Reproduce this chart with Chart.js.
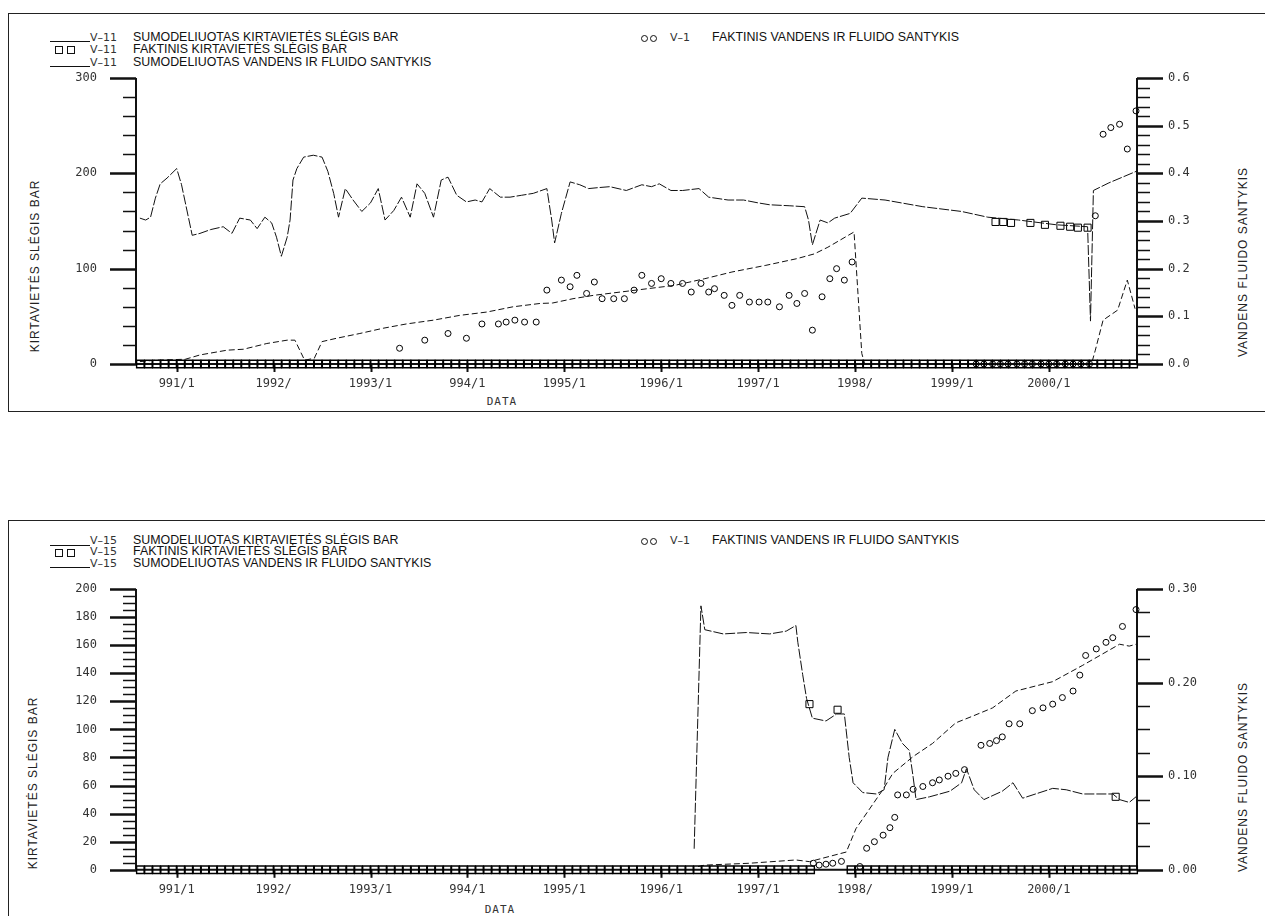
<!DOCTYPE html>
<html>
<head>
<meta charset="utf-8">
<script src="https://cdn.jsdelivr.net/npm/chart.js@4.4.1/dist/chart.umd.min.js"></script>
<style>
  html, body { margin: 0; padding: 0; background: #fff; overflow: hidden; width: 1265px; height: 916px; }
  .box { position: absolute; left: 8px; width: 1270px; border: 1.5px solid #222; }
  canvas { position: absolute; left: 0; }
  .t { position: absolute; font: 12.4px "Liberation Sans", Arial, sans-serif; color: #111; white-space: nowrap; line-height: 12px; }
  .tag { position: absolute; font: 11px "DejaVu Sans", sans-serif; color: #333; white-space: nowrap; line-height: 12px; }
  .sample { position: absolute; height: 0; border-top: 1px solid #111; }
  .sq { position: absolute; width: 6px; height: 6px; border: 1px solid #111; }
  .ci { position: absolute; width: 5px; height: 5px; border: 1px solid #111; border-radius: 50%; }
  .rot { position: absolute; font: 12px "Liberation Sans", Arial, sans-serif; letter-spacing: 1px; color: #222;
         white-space: nowrap; transform: translate(-50%, -50%) rotate(-90deg); }
  .xt { position: absolute; font: 11px "DejaVu Sans Mono", monospace; letter-spacing: 1px; color: #333; transform: translate(-50%, -50%); }
</style>
</head>
<body>
<div class="box" style="top:13px;height:397px;"></div>
<div class="box" style="top:520px;height:420px;"></div>

<!-- V-11 legend -->
<div class="sample" style="left:50px;top:41px;width:40px;"></div>
<div class="tag" style="left:90px;top:32px;">V–11</div>
<div class="t" style="left:133px;top:31px;">SUMODELIUOTAS KIRTAVIETĖS SLĖGIS BAR</div>
<div class="sq" style="left:55px;top:46px;"></div>
<div class="sq" style="left:67px;top:46px;"></div>
<div class="tag" style="left:90px;top:44px;">V–11</div>
<div class="t" style="left:133px;top:43px;">FAKTINIS KIRTAVIETĖS SLĖGIS BAR</div>
<div class="sample" style="left:50px;top:66px;width:40px;"></div>
<div class="tag" style="left:90px;top:57px;">V–11</div>
<div class="t" style="left:133px;top:56px;">SUMODELIUOTAS VANDENS IR FLUIDO SANTYKIS</div>
<div class="ci" style="left:641px;top:35px;"></div>
<div class="ci" style="left:650px;top:35px;"></div>
<div class="tag" style="left:670px;top:32px;">V–1</div>
<div class="t" style="left:712px;top:31px;">FAKTINIS VANDENS IR FLUIDO SANTYKIS</div>
<div class="rot" style="left:35px;top:266px;">KIRTAVIETĖS SLĖGIS BAR</div>
<div class="rot" style="left:1243px;top:262px;">VANDENS FLUIDO SANTYKIS</div>
<div class="xt" style="left:502px;top:401px;">DATA</div>

<!-- V-15 legend -->
<div class="sample" style="left:50px;top:545px;width:40px;"></div>
<div class="tag" style="left:90px;top:535px;">V–15</div>
<div class="t" style="left:133px;top:534px;">SUMODELIUOTAS KIRTAVIETĖS SLĖGIS BAR</div>
<div class="sq" style="left:55px;top:549px;"></div>
<div class="sq" style="left:67px;top:549px;"></div>
<div class="tag" style="left:90px;top:546px;">V–15</div>
<div class="t" style="left:133px;top:545px;">FAKTINIS KIRTAVIETĖS SLĖGIS BAR</div>
<div class="sample" style="left:50px;top:567px;width:40px;"></div>
<div class="tag" style="left:90px;top:558px;">V–15</div>
<div class="t" style="left:133px;top:557px;">SUMODELIUOTAS VANDENS IR FLUIDO SANTYKIS</div>
<div class="ci" style="left:641px;top:538px;"></div>
<div class="ci" style="left:650px;top:538px;"></div>
<div class="tag" style="left:670px;top:535px;">V–1</div>
<div class="t" style="left:712px;top:534px;">FAKTINIS VANDENS IR FLUIDO SANTYKIS</div>
<div class="rot" style="left:33px;top:783px;">KIRTAVIETĖS SLĖGIS BAR</div>
<div class="rot" style="left:1243px;top:777px;">VANDENS FLUIDO SANTYKIS</div>
<div class="xt" style="left:500px;top:909px;">DATA</div>

<canvas id="chartV11" width="1265" height="420" style="top:0;width:1265px;height:420px;"></canvas>
<canvas id="chartV15" width="1265" height="405" style="top:511px;width:1265px;height:405px;"></canvas>

<script>
// x axis: decimal years
const xTickYears = [1991, 1992, 1993, 1994, 1995, 1996, 1997, 1998, 1999, 2000];
const xTickLabels = ['991/1', '1992/', '1993/1', '994/1', '1995/1', '1996/1', '1997/1', '1998/', '1999/1', '2000/1'];

// month grid of the time axis (1990/08 .. 2000/11)
const months = [];
for (let m = 0; m < 124; m++) months.push(1990.625 + m / 12);

// ---- V-11 ----
const simPressYearsV11 = [1990.62, 1990.68, 1990.73, 1990.78, 1990.83, 1990.90, 1991.00, 1991.05, 1991.16, 1991.24,
  1991.35, 1991.48, 1991.57, 1991.65, 1991.76, 1991.83, 1991.91, 1991.98, 1992.03, 1992.08,
  1992.14, 1992.17, 1992.20, 1992.24, 1992.31, 1992.41, 1992.50, 1992.56, 1992.62, 1992.67,
  1992.74, 1992.82, 1992.91, 1993.00, 1993.08, 1993.15, 1993.24, 1993.32, 1993.41, 1993.48,
  1993.56, 1993.65, 1993.73, 1993.80, 1993.89, 1993.99, 1994.08, 1994.15, 1994.23, 1994.34,
  1994.44, 1994.56, 1994.68, 1994.82, 1994.87, 1994.90, 1994.97, 1995.06, 1995.16, 1995.25,
  1995.35, 1995.47, 1995.64, 1995.80, 1995.90, 1995.98, 1996.10, 1996.22, 1996.39, 1996.49,
  1996.69, 1996.85, 1997.00, 1997.12, 1997.32, 1997.48, 1997.52, 1997.56, 1997.64, 1997.72,
  1997.79, 1997.95, 1998.07, 1998.31, 1998.70, 1999.10, 1999.37, 1999.69, 2000.08, 2000.40,
  2000.43, 2000.46, 2000.62, 2000.90];
const simPressV11 = [153, 151, 154, 174, 189, 195, 205, 188, 135, 137,
  141, 144, 137, 153, 151, 142, 154, 148, 133, 113,
  133, 151, 193, 205, 217, 219, 217, 202, 179, 154,
  184, 172, 160, 169, 184, 151, 161, 175, 154, 189,
  179, 154, 193, 196, 177, 170, 172, 170, 184, 175,
  175, 177, 179, 184, 151, 127, 158, 191, 188, 184,
  185, 186, 182, 188, 186, 189, 182, 182, 184, 175,
  172, 172, 169, 167, 166, 165, 151, 125, 151, 148,
  153, 158, 174, 172, 165, 160, 154, 151, 146, 144,
  45, 182, 190, 202];

const simRatioYearsV11 = [1990.62, 1990.78, 1991.09, 1991.24, 1991.52, 1991.69, 1991.93, 1992.14, 1992.22, 1992.32,
  1992.42, 1992.50, 1992.65, 1992.89, 1993.13, 1993.37, 1993.65, 1993.92, 1994.20, 1994.47,
  1994.75, 1994.88, 1995.09, 1995.30, 1995.74, 1996.14, 1996.45, 1996.73, 1997.08, 1997.40,
  1997.58, 1997.72, 1997.99, 1998.07, 1998.10, 2000.44, 2000.48, 2000.56, 2000.71, 2000.81,
  2000.89];
const simRatioV11 = [0.005, 0.008, 0.010, 0.019, 0.029, 0.031, 0.043, 0.050, 0.050, 0.008,
  0.012, 0.047, 0.054, 0.064, 0.075, 0.084, 0.092, 0.102, 0.109, 0.120,
  0.127, 0.128, 0.137, 0.144, 0.155, 0.165, 0.179, 0.193, 0.207, 0.221,
  0.231, 0.245, 0.277, 0.022, 0.000, 0.000, 0.029, 0.092, 0.113, 0.176,
  0.116];

const factPressYearsV11 = [1999.45, 1999.53, 1999.61, 1999.81, 1999.96, 2000.12, 2000.22, 2000.30, 2000.40];
const factPressV11 = [149, 149, 148, 148, 146, 145, 144, 143, 143];

const factRatioYearsV11 = [1993.30, 1993.56, 1993.80, 1993.99, 1994.15, 1994.32, 1994.40, 1994.49, 1994.59, 1994.71,
  1994.82, 1994.97, 1995.06, 1995.13, 1995.23, 1995.31, 1995.39, 1995.51, 1995.62, 1995.72,
  1995.80, 1995.90, 1996.00, 1996.10, 1996.22, 1996.31, 1996.41, 1996.49, 1996.55, 1996.65,
  1996.73, 1996.81, 1996.91, 1997.01, 1997.10, 1997.22, 1997.32, 1997.40, 1997.48, 1997.56,
  1997.66, 1997.74, 1997.81, 1997.89, 1997.97,
  1999.25, 1999.33, 1999.42, 1999.50, 1999.58, 1999.67, 1999.75, 1999.83, 1999.92, 2000.00,
  2000.08, 2000.17, 2000.25, 2000.33, 2000.42,
  2000.48, 2000.56, 2000.64, 2000.73, 2000.81, 2000.90];
const factRatioV11 = [0.033, 0.050, 0.064, 0.054, 0.084, 0.084, 0.088, 0.092, 0.088, 0.088,
  0.155, 0.176, 0.162, 0.186, 0.148, 0.172, 0.137, 0.137, 0.137, 0.155,
  0.186, 0.169, 0.179, 0.169, 0.169, 0.151, 0.169, 0.151, 0.158, 0.144,
  0.123, 0.144, 0.130, 0.130, 0.130, 0.120, 0.144, 0.127, 0.148, 0.071,
  0.141, 0.179, 0.200, 0.176, 0.214,
  0, 0, 0, 0, 0, 0, 0, 0, 0, 0,
  0, 0, 0, 0, 0,
  0.311, 0.482, 0.496, 0.503, 0.451, 0.531];

// ---- V-15 ----
const simPressYearsV15 = [1996.34, 1996.41, 1996.45, 1996.64, 1996.88, 1997.12, 1997.29, 1997.39, 1997.41, 1997.46,
  1997.50, 1997.56, 1997.70, 1997.81, 1997.89, 1997.94, 1997.98, 1998.08, 1998.22, 1998.30,
  1998.34, 1998.41, 1998.49, 1998.56, 1998.60, 1998.63, 1998.77, 1998.98, 1999.10, 1999.15,
  1999.23, 1999.33, 1999.52, 1999.63, 1999.73, 2000.04, 2000.18, 2000.35, 2000.66, 2000.73,
  2000.83, 2000.90];
const simPressV15 = [15, 188, 171, 168, 169, 168, 170, 174, 162, 139,
  122, 108, 106, 111, 111, 80, 62, 55, 54, 57,
  80, 100, 90, 85, 66, 50, 52, 56, 62, 72,
  57, 50, 56, 62, 51, 58, 57, 54, 54, 50,
  48, 52];

const simRatioYearsV15 = [1996.38, 1996.45, 1996.91, 1997.39, 1997.53, 1997.91, 1998.01, 1998.15, 1998.29, 1998.39,
  1998.60, 1998.80, 1999.04, 1999.21, 1999.42, 1999.66, 2000.04, 2000.35, 2000.73, 2000.83,
  2000.90];
const simRatioV15 = [0.0035, 0.005, 0.007, 0.0105, 0.0087, 0.019, 0.044, 0.065, 0.086, 0.103,
  0.121, 0.135, 0.157, 0.164, 0.173, 0.191, 0.201, 0.2185, 0.241, 0.239,
  0.241];

const factPressYearsV15 = [1997.53, 1997.82, 2000.69];
const factPressV15 = [118, 114, 52];

const factRatioYearsV15 = [1997.57, 1997.63, 1997.70, 1997.77, 1997.86, 1998.05, 1998.12, 1998.20, 1998.29, 1998.36,
  1998.41, 1998.44, 1998.53, 1998.60, 1998.70, 1998.80, 1998.87, 1998.96, 1999.04, 1999.13,
  1999.30, 1999.39, 1999.46, 1999.52, 1999.59, 1999.70, 1999.83, 1999.94, 2000.04, 2000.14,
  2000.25, 2000.32, 2000.38, 2000.49, 2000.59, 2000.66, 2000.76, 2000.90];
const factRatioV15 = [0.007, 0.005, 0.006, 0.007, 0.009, 0.0035, 0.023, 0.030, 0.037, 0.045,
  0.056, 0.080, 0.080, 0.086, 0.089, 0.093, 0.096, 0.100, 0.103, 0.107,
  0.133, 0.135, 0.138, 0.142, 0.156, 0.156, 0.170, 0.173, 0.177, 0.184,
  0.191, 0.208, 0.229, 0.236, 0.243, 0.248, 0.260, 0.278];

// factual pressure recorded as 0 (row of squares on the time axis)
const zeroRowV11 = months;
const zeroRowV15 = months.filter(m => !(m > 1997.55 && m < 1997.9));

const pts = (xs, ys) => xs.map((x, i) => ({ x, y: ys[i] }));
const zeros = xs => xs.map(x => ({ x, y: 0 }));

// plotter style axes with major / minor ticks
const plotterAxes = {
  id: 'plotterAxes',
  beforeDatasetsDraw(chart, args, opts) {
    const { ctx, chartArea: a, scales } = chart;
    const ticksFor = (scale, minor, major, side) => {
      const n = Math.round((scale.max - scale.min) / minor);
      for (let i = 0; i <= n; i++) {
        const v = scale.min + i * minor;
        const isMajor = Math.abs(v / major - Math.round(v / major)) < 1e-6;
        const py = Math.round(scale.getPixelForValue(v)) + 0.5;
        const len = isMajor ? 26 : 13;
        ctx.lineWidth = isMajor ? 2.5 : 1.5;
        ctx.beginPath();
        if (side === 'left') { ctx.moveTo(a.left - len, py); ctx.lineTo(a.left, py); }
        else { ctx.moveTo(a.right, py); ctx.lineTo(a.right + len, py); }
        ctx.stroke();
      }
    };
    ctx.save();
    ctx.strokeStyle = '#111';
    ctx.lineWidth = 2;
    ctx.beginPath();
    ctx.moveTo(a.left, a.top); ctx.lineTo(a.left, a.bottom);
    ctx.moveTo(a.right, a.top); ctx.lineTo(a.right, a.bottom);
    ctx.moveTo(a.left, a.bottom); ctx.lineTo(a.right, a.bottom);
    ctx.stroke();
    ticksFor(scales.y, opts.leftMinor, opts.leftMajor, 'left');
    ticksFor(scales.y1, opts.rightMinor, opts.rightMajor, 'right');
    ctx.lineWidth = 2;
    scales.x.ticks.forEach(t => {
      const px = Math.round(scales.x.getPixelForValue(t.value)) + 0.5;
      ctx.beginPath(); ctx.moveTo(px, a.bottom); ctx.lineTo(px, a.bottom + 8); ctx.stroke();
    });
    ctx.restore();
  }
};

const tickFont = { family: 'DejaVu Sans Mono', size: 12 };

function makeChart(id, d) {
  return new Chart(document.getElementById(id), {
    type: 'scatter',
    data: {
      datasets: [
        { data: zeros(d.zeroRow), yAxisID: 'y', pointStyle: 'rect', pointRadius: 5.3, borderWidth: 1.4,
          borderColor: '#000', backgroundColor: 'rgba(0,0,0,0)', clip: false },
        { data: pts(d.simPressYears, d.simPress), yAxisID: 'y', showLine: true, pointRadius: 0,
          borderColor: '#111', borderWidth: 1, borderDash: [10, 2] },
        { data: pts(d.simRatioYears, d.simRatio), yAxisID: 'y1', showLine: true, pointRadius: 0,
          borderColor: '#111', borderWidth: 1, borderDash: [6, 3] },
        { data: pts(d.factPressYears, d.factPress), yAxisID: 'y', pointStyle: 'rect', pointRadius: 5, borderWidth: 1,
          borderColor: '#000', backgroundColor: 'rgba(0,0,0,0)', clip: false },
        { data: pts(d.factRatioYears, d.factRatio), yAxisID: 'y1', pointStyle: 'circle', pointRadius: 3, borderWidth: 1,
          borderColor: '#000', backgroundColor: 'rgba(0,0,0,0)', clip: false }
      ]
    },
    options: {
      responsive: false,
      animation: false,
      layout: { padding: { top: 78, left: 0, right: 0, bottom: 0 } },
      plugins: {
        legend: { display: false },
        tooltip: { enabled: false },
        plotterAxes: d.axes
      },
      scales: {
        x: {
          type: 'linear', min: 1990.58, max: 2000.91,
          afterFit: s => { s.height = d.xHeight; },
          afterBuildTicks: s => { s.ticks = xTickYears.map(v => ({ value: v })); },
          grid: { display: false, drawTicks: false }, border: { display: false },
          ticks: { autoSkip: false, maxRotation: 0, padding: 13, font: tickFont, color: '#333',
                   callback: (v, i) => xTickLabels[i] }
        },
        y: {
          position: 'left', min: 0, max: d.leftMax,
          afterFit: s => { s.width = 136; },
          grid: { display: false, drawTicks: false }, border: { display: false },
          ticks: { stepSize: d.axes.leftLabelStep, padding: 39, font: tickFont, color: '#333' }
        },
        y1: {
          position: 'right', min: 0, max: d.rightMax,
          afterFit: s => { s.width = 128; },
          grid: { display: false, drawTicks: false }, border: { display: false },
          ticks: { stepSize: 0.1, padding: 31, font: tickFont, color: '#333',
                   callback: v => v.toFixed(d.rightDigits) }
        }
      }
    },
    plugins: [plotterAxes]
  });
}

makeChart('chartV11', {
  zeroRow: zeroRowV11,
  simPressYears: simPressYearsV11, simPress: simPressV11,
  simRatioYears: simRatioYearsV11, simRatio: simRatioV11,
  factPressYears: factPressYearsV11, factPress: factPressV11,
  factRatioYears: factRatioYearsV11, factRatio: factRatioV11,
  leftMax: 300, rightMax: 0.6, rightDigits: 1, xHeight: 56,
  axes: { leftMinor: 20, leftMajor: 100, leftLabelStep: 100, rightMinor: 0.02, rightMajor: 0.1 }
});

makeChart('chartV15', {
  zeroRow: zeroRowV15,
  simPressYears: simPressYearsV15, simPress: simPressV15,
  simRatioYears: simRatioYearsV15, simRatio: simRatioV15,
  factPressYears: factPressYearsV15, factPress: factPressV15,
  factRatioYears: factRatioYearsV15, factRatio: factRatioV15,
  leftMax: 200, rightMax: 0.3, rightDigits: 2, xHeight: 41,
  axes: { leftMinor: 5, leftMajor: 20, leftLabelStep: 20, rightMinor: 0.025, rightMajor: 0.1 }
});
</script>
</body>
</html>
